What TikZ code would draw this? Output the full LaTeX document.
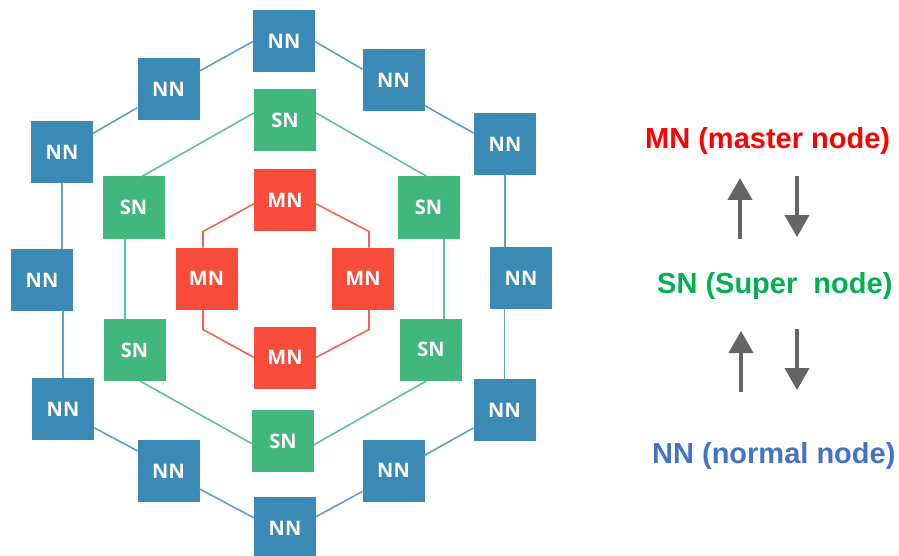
\documentclass[tikz,border=0pt]{standalone}
\usepackage{fontspec}
\setmainfont{Liberation Sans}
\newfontfamily\boxfont{Open Sans}
\usetikzlibrary{arrows.meta}
\definecolor{nnfill}{HTML}{3A8AB5}
\definecolor{snfill}{HTML}{42B77D}
\definecolor{mnfill}{HTML}{FA4C3A}
\definecolor{nnline}{HTML}{5B9FCB}
\definecolor{snline}{HTML}{5CC394}
\definecolor{mnline}{HTML}{F26451}
\definecolor{mntext}{HTML}{FF0000}
\definecolor{sntext}{HTML}{00B050}
\definecolor{nntext}{HTML}{4472C4}
\definecolor{arrowgray}{HTML}{646464}
\tikzset{
  box/.style={minimum size=62pt, inner sep=0pt, outer sep=0pt, text=white,
    font=\boxfont\bfseries\fontsize{20}{20}\selectfont},
  nnbox/.style={box, fill=nnfill},
  snbox/.style={box, fill=snfill},
  mnbox/.style={box, fill=mnfill},
  nnlink/.style={draw=nnline, line width=1.6pt},
  snlink/.style={draw=snline, line width=1.6pt},
  mnlink/.style={draw=mnline, line width=1.6pt},
  legend/.style={anchor=base west, inner sep=0pt, font=\bfseries\fontsize{29}{29}\selectfont},
  flow/.style={draw=arrowgray, line width=4pt, -{Triangle[width=24pt,length=22pt]}}
}
\begin{document}
\begin{tikzpicture}[x=1pt,y=-1pt]
\useasboundingbox (0,0) rectangle (899,556);
% NN ring
\node[nnbox] (n1) at (284,41.5) {NN};
\node[nnbox] (n2) at (168.5,89) {NN};
\node[nnbox] (n3) at (62,152) {NN};
\node[nnbox] (n4) at (42,280) {NN};
\node[nnbox] (n5) at (63,409) {NN};
\node[nnbox] (n6) at (168.5,471) {NN};
\node[nnbox] (n7) at (285,528) {NN};
\node[nnbox] (n8) at (393.5,470.5) {NN};
\node[nnbox] (n9) at (504.5,410) {NN};
\node[nnbox] (n10) at (521,278) {NN};
\node[nnbox] (n11) at (505,144.5) {NN};
\node[nnbox] (n12) at (393.5,80.5) {NN};
% SN ring
\node[snbox] (s1) at (285,120) {SN};
\node[snbox] (s2) at (133.5,207.5) {SN};
\node[snbox] (s3) at (134.5,350) {SN};
\node[snbox] (s4) at (283,441) {SN};
\node[snbox] (s5) at (431,349.5) {SN};
\node[snbox] (s6) at (428.5,207.5) {SN};
% MN ring
\node[mnbox] (m1) at (285,200) {MN};
\node[mnbox] (m2) at (206.5,278.5) {MN};
\node[mnbox] (m3) at (285,357.5) {MN};
\node[mnbox] (m4) at (363,278.5) {MN};
% NN links
\draw[nnlink] (n1.west) -- (n2.30);
\draw[nnlink] (n2.211) -- (n3.31);
\draw[nnlink] (n3.south) -- (n3.south |- n4.north);
\draw[nnlink] (n5.north) -- (n5.north |- n4.south);
\draw[nnlink] (n5.-31) -- (n6.147);
\draw[nnlink] (n6.-30) -- (n7.162);
\draw[nnlink] (n7.20) -- (n8.214);
\draw[nnlink] (n8.26) -- (n9.210);
\draw[nnlink] (n9.north) -- (n9.north |- n10.south);
\draw[nnlink] (n11.south) -- (n11.south |- n10.north);
\draw[nnlink] (n11.160) -- (n12.-39);
\draw[nnlink] (n12.160) -- (n1.east);
% SN links
\draw[snlink] (s1.167) -- (s2.75);
\draw[snlink] ([xshift=-8.5pt]s2.south) -- ([xshift=-8.5pt]s2.south |- s3.north);
\draw[snlink] (s3.-80) -- (s4.185);
\draw[snlink] (s4.-7) -- (s5.263);
\draw[snlink] ([xshift=15.5pt]s6.south) -- ([xshift=15.5pt]s6.south |- s5.north);
\draw[snlink] (s6.93) -- (s1.13);
% MN links
\draw[mnlink] (m1.187) -- ([xshift=-3.5pt,yshift=16pt]m2.north) -- ([xshift=-3.5pt]m2.north);
\draw[mnlink] ([xshift=-3.5pt]m2.south) -- ([xshift=-3.5pt,yshift=-20pt]m2.south) -- (m3.west);
\draw[mnlink] (m1.-7) -- ([xshift=6pt,yshift=16pt]m4.north) -- ([xshift=6pt]m4.north);
\draw[mnlink] ([xshift=6pt]m4.south) -- ([xshift=6pt,yshift=-20pt]m4.south) -- (m3.east);
% legend
\node[legend, text=mntext] (lm) at (645,149) {MN (master node)};
\node[legend, text=sntext] (ls) at (657,293) {SN (Super\ \ node)};
\node[legend, text=nntext] (ln) at (652,463) {NN (normal node)};
\coordinate (u1a) at (740,239); \coordinate (u1b) at (740,178);
\coordinate (d1a) at (797,176); \coordinate (d1b) at (797,237);
\coordinate (u2a) at (741,392); \coordinate (u2b) at (741,331);
\coordinate (d2a) at (797,329); \coordinate (d2b) at (797,390);
\draw[flow] (u1a) -- (u1b);
\draw[flow] (d1a) -- (d1b);
\draw[flow] (u2a) -- (u2b);
\draw[flow] (d2a) -- (d2b);
\end{tikzpicture}
\end{document}
